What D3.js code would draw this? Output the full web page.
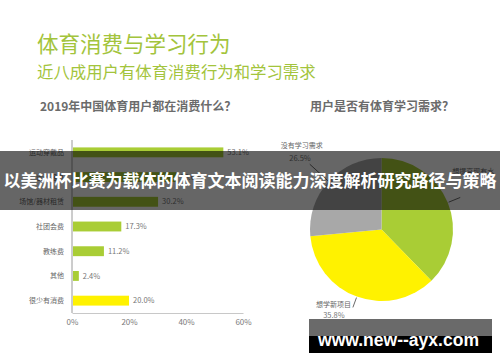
<!DOCTYPE html>
<html>
<head>
<meta charset="utf-8">
<script src="https://cdn.jsdelivr.net/npm/d3@7"></script>
<style>
    body { margin: 0; background: #fff; }
    svg { display: block; font-family: "Noto Sans CJK SC", "Noto Sans", sans-serif; }
</style>
</head>
<body>
<svg id="chart" width="500" height="362"></svg>
<script>

// bar chart data
var barCategories = ['运动穿戴品', '运动器具', '场馆/器材租赁', '社团会费', '教练费', '其他', '很少有消费'];
var barValues = [53.1, 36.6, 30.2, 17.3, 11.2, 2.4, 20.0];
var xTicks = [0, 20, 40, 60];

// pie chart data
var pieLabels = ['想提高现有水', '想学新项目', '没有学习需求'];
var pieValues = [37.7, 35.8, 26.5];

var green = '#a9cd35';
var yellow = '#fff200';
var pieColors = [green, yellow, '#a8a8a8'];

var svg = d3.select('#chart');

// titles
svg.append('text')
    .attr('x', 37)
    .attr('y', 52)
    .attr('fill', '#a3c43c')
    .attr('font-size', 21.5)
    .text('体育消费与学习行为');

svg.append('text')
    .attr('x', 37)
    .attr('y', 78)
    .attr('fill', '#a3c43c')
    .attr('font-size', 16.4)
    .text('近八成用户有体育消费行为和学习需求');

svg.append('text')
    .attr('x', 40)
    .attr('y', 111)
    .attr('fill', '#6b6b6b')
    .attr('font-size', 12)
    .attr('font-weight', 'bold')
    .text('2019年中国体育用户都在消费什么？');

svg.append('text')
    .attr('x', 310)
    .attr('y', 111)
    .attr('fill', '#6b6b6b')
    .attr('font-size', 12)
    .attr('font-weight', 'bold')
    .text('用户是否有体育学习需求？');

// bar chart
var x = d3.scaleLinear()
    .domain([0, 60])
    .range([72, 243]);

var y = d3.scaleBand()
    .domain(barCategories)
    .range([140, 313])
    .paddingInner(0.6)
    .paddingOuter(0.3);

var xAxis = svg.append('g')
    .attr('transform', 'translate(0,313)')
    .call(d3.axisBottom(x)
        .tickValues(xTicks)
        .tickSize(0)
        .tickPadding(6)
        .tickFormat(function(d) { return d + '%'; }));

xAxis.select('.domain').attr('stroke', '#c8c8c8');
xAxis.selectAll('text')
    .attr('fill', '#7a7a7a')
    .attr('font-size', 8)
    .attr('font-family', '"Noto Sans CJK SC", sans-serif');

svg.append('line')
    .attr('x1', x(0))
    .attr('x2', x(0))
    .attr('y1', 140)
    .attr('y2', 313)
    .attr('stroke', '#9a9a9a')
    .attr('stroke-width', 1);

svg.selectAll('.bar')
    .data(barValues)
    .enter()
    .append('rect')
        .attr('class', 'bar')
        .attr('x', x(0) + 1)
        .attr('y', function(d, i) { return y(barCategories[i]); })
        .attr('width', function(d) { return x(d) - x(0) - 1; })
        .attr('height', y.bandwidth())
        .attr('fill', function(d, i) {
            return i === barValues.length - 1 ? yellow : green;
        });

svg.selectAll('.cat')
    .data(barCategories)
    .enter()
    .append('text')
        .attr('class', 'cat')
        .attr('x', 64)
        .attr('y', function(d) { return y(d) + y.bandwidth() / 2; })
        .attr('dy', '0.35em')
        .attr('text-anchor', 'end')
        .attr('fill', '#666')
        .attr('font-size', 7)
        .text(function(d) { return d; });

svg.selectAll('.val')
    .data(barValues)
    .enter()
    .append('text')
        .attr('class', 'val')
        .attr('x', function(d) { return x(d) + 4; })
        .attr('y', function(d, i) { return y(barCategories[i]) + y.bandwidth() / 2; })
        .attr('dy', '0.35em')
        .attr('fill', '#777')
        .attr('font-size', 7.5)
        .text(function(d) { return d.toFixed(1) + '%'; });

// pie chart
var cx = 381.5, cy = 229.5, radius = 71.5;

var pie = d3.pie().sort(null);
var arc = d3.arc().innerRadius(0).outerRadius(radius);
var arcs = pie(pieValues);

var pieG = svg.append('g')
    .attr('transform', 'translate(' + cx + ',' + cy + ')');

pieG.selectAll('.slice')
    .data(arcs)
    .enter()
    .append('path')
        .attr('class', 'slice')
        .attr('d', arc)
        .attr('fill', function(d, i) { return pieColors[i]; });

// leader line lengths per slice
var leaderR = [85, 83, 97];

function polar(a, r) {
    return [Math.sin(a) * r, -Math.cos(a) * r];
}

arcs.forEach(function(d, i) {
    var mid = (d.startAngle + d.endAngle) / 2;
    var p0 = polar(mid, radius + 1);
    var p1 = polar(mid, leaderR[i]);

    pieG.append('line')
        .attr('x1', p0[0]).attr('y1', p0[1])
        .attr('x2', p1[0]).attr('y2', p1[1])
        .attr('stroke', '#444')
        .attr('stroke-width', 0.8);

    if (i === 0) {
        // percentage of this slice sits under the banner title in the reference
        pieG.append('text')
            .attr('x', p1[0] - 8).attr('y', p1[1] - 26)
            .attr('dy', '0.35em')
            .attr('fill', '#666')
            .attr('font-size', 7)
            .text(pieLabels[i]);
    } else if (i === 1) {
        pieG.append('text')
            .attr('x', p1[0] - 2).attr('y', p1[1] - 3)
            .attr('dy', '0.35em')
            .attr('text-anchor', 'end')
            .attr('fill', '#666')
            .attr('font-size', 7)
            .text(pieLabels[i]);
        pieG.append('text')
            .attr('x', p1[0] - 19).attr('y', p1[1] + 8)
            .attr('dy', '0.35em')
            .attr('text-anchor', 'middle')
            .attr('fill', '#777')
            .attr('font-size', 7.5)
            .text(pieValues[i].toFixed(1) + '%');
    } else {
        pieG.append('text')
            .attr('x', p1[0] - 29).attr('y', p1[1] - 19)
            .attr('dy', '0.35em')
            .attr('fill', '#666')
            .attr('font-size', 7)
            .text(pieLabels[i]);
        pieG.append('text')
            .attr('x', p1[0] + 1).attr('y', p1[1] - 6)
            .attr('dy', '0.35em')
            .attr('text-anchor', 'end')
            .attr('fill', '#777')
            .attr('font-size', 7.5)
            .text(pieValues[i].toFixed(1) + '%');
    }
});

// overlay banner
svg.append('rect')
    .attr('x', 0)
    .attr('y', 151)
    .attr('width', 500)
    .attr('height', 59)
    .attr('fill', 'rgba(0,0,0,0.6)');

svg.append('text')
    .attr('x', 250)
    .attr('y', 181)
    .attr('dy', '0.35em')
    .attr('text-anchor', 'middle')
    .attr('fill', '#fff')
    .attr('font-size', 17)
    .attr('font-weight', 'bold')
    .text('以美洲杯比赛为载体的体育文本阅读能力深度解析研究路径与策略');

// watermark box
svg.append('rect')
    .attr('x', 309).attr('y', 319)
    .attr('width', 183).attr('height', 17)
    .attr('fill', '#6a6a6a');

svg.append('rect')
    .attr('x', 309).attr('y', 336)
    .attr('width', 183).attr('height', 17)
    .attr('fill', '#000');

svg.append('text')
    .attr('x', 318)
    .attr('y', 346)
    .attr('fill', '#fff')
    .attr('font-size', 18)
    .attr('font-weight', 'bold')
    .attr('font-family', '"Liberation Sans", Arial, sans-serif')
    .attr('textLength', 161)
    .attr('lengthAdjust', 'spacingAndGlyphs')
    .text('www.new--ayx.com');

</script>
</body>
</html>
